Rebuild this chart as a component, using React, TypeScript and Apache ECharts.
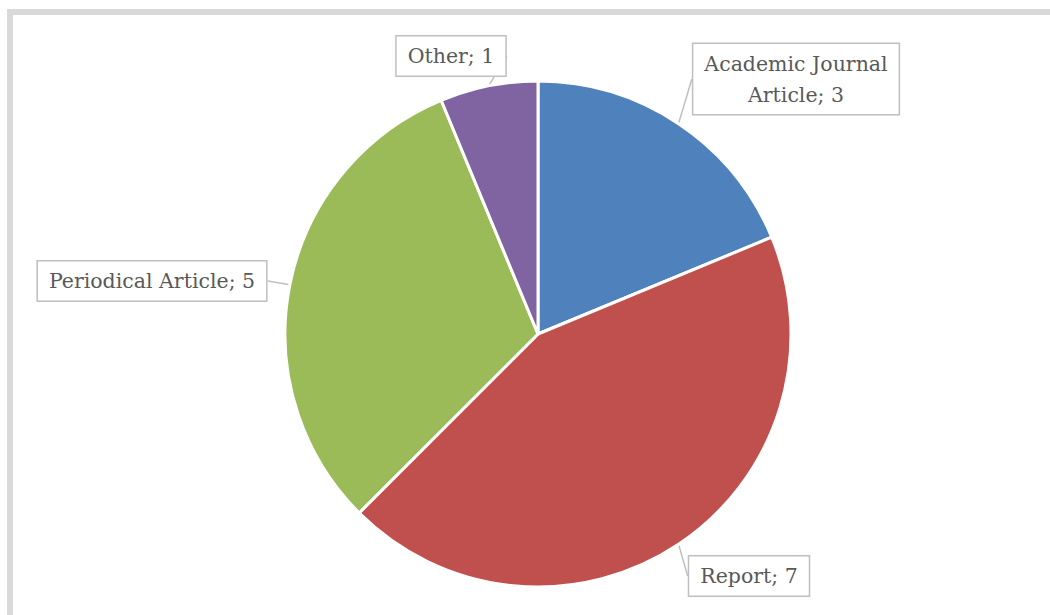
import React, { useEffect, useRef } from "react";
import * as echarts from "echarts";

const categories = ["Academic Journal\nArticle", "Report", "Periodical Article", "Other"];
const values = [3, 7, 5, 1];
const colors = ["#4F81BD", "#C0504D", "#9BBB59", "#8064A2"];
const labelCenters: [number, number][] = [
  [796, 79],
  [749, 576],
  [152, 281],
  [451, 56],
];

export default function App() {
  const ref = useRef<HTMLDivElement>(null);
  useEffect(() => {
    if (!ref.current) return;
    const chart = echarts.init(ref.current, null, { renderer: "svg" });
    chart.setOption({
      animation: false,
      backgroundColor: "#ffffff",
      graphic: [
        {
          type: "rect",
          shape: { x: 10, y: 12, width: 1100, height: 700 },
          style: { fill: "none", stroke: "#d9d9d9", lineWidth: 6 },
          silent: true,
        },
      ],
      series: [
        {
          type: "pie",
          center: [538, 334],
          radius: 253,
          startAngle: 90,
          clockwise: true,
          itemStyle: { borderColor: "#ffffff", borderWidth: 3 },
          data: categories.map((c, i) => ({
            name: c,
            value: values[i],
            itemStyle: { color: colors[i] },
          })),
          label: {
            show: true,
            position: "outside",
            formatter: (p: any) => `${p.name}; ${p.value}`,
            fontFamily: "DejaVu Serif",
            fontSize: 20.5,
            lineHeight: 31,
            color: "#595959",
            backgroundColor: "#ffffff",
            borderColor: "#bfbfbf",
            borderWidth: 1.5,
            padding: [4, 11, 4, 11],
            align: "center",
          },
          labelLine: {
            show: true,
            length: 1,
            length2: 0,
            lineStyle: { color: "#bfbfbf", width: 1.5 },
          },
          labelLayout: (params: any) => {
            const c = labelCenters[params.dataIndex];
            return { x: c[0], y: c[1], align: "center", verticalAlign: "middle" };
          },
          emphasis: { disabled: true },
        },
      ],
    });
    return () => chart.dispose();
  }, []);
  return (
    <div
      ref={ref}
      style={{ position: "fixed", left: 0, top: 0, width: 1050, height: 615 }}
    />
  );
}
